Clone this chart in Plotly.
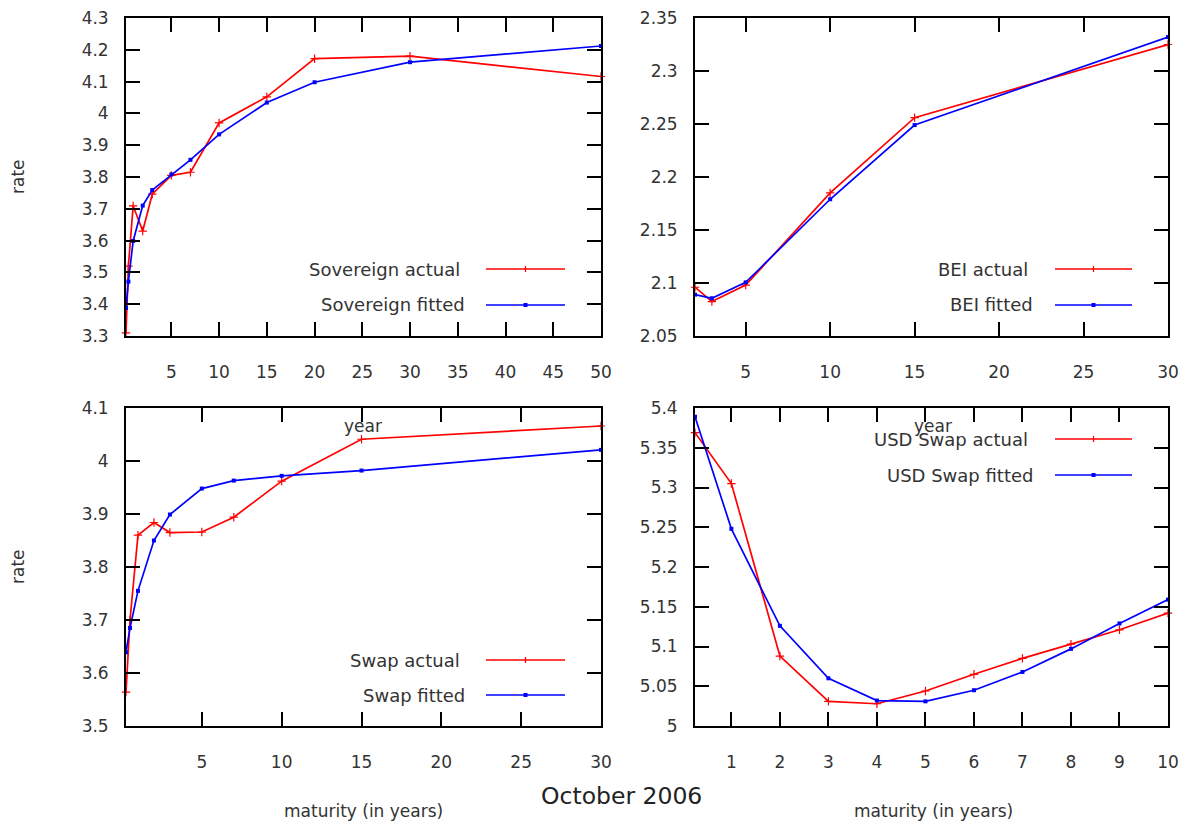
import plotly.graph_objects as go

# ---------------- data ----------------
sov_maturity = [0.25, 0.5, 1, 2, 3, 5, 7, 10, 15, 20, 30, 50]
sov_actual = [3.310, 3.520, 3.709, 3.630, 3.746, 3.805, 3.815, 3.970, 4.052, 4.172, 4.180, 4.116]
sov_fitted = [3.388, 3.471, 3.599, 3.710, 3.759, 3.808, 3.854, 3.934, 4.034, 4.098, 4.161, 4.212]

bei_maturity = [2, 3, 5, 10, 15, 30]
bei_actual = [2.096, 2.0825, 2.098, 2.185, 2.256, 2.325]
bei_fitted = [2.089, 2.0856, 2.1006, 2.179, 2.249, 2.332]

swap_maturity = [0.25, 0.5, 1, 2, 3, 5, 7, 10, 15, 30]
swap_actual = [3.564, 3.700, 3.860, 3.884, 3.865, 3.866, 3.894, 3.962, 4.041, 4.066]
swap_fitted = [3.639, 3.685, 3.755, 3.850, 3.899, 3.948, 3.963, 3.972, 3.982, 4.021]

usd_maturity = [0.25, 1, 2, 3, 4, 5, 6, 7, 8, 9, 10]
usd_actual = [5.369, 5.305, 5.088, 5.031, 5.028, 5.044, 5.065, 5.085, 5.103, 5.121, 5.142]
usd_fitted = [5.389, 5.248, 5.126, 5.060, 5.032, 5.031, 5.045, 5.068, 5.097, 5.129, 5.159]

legend_names = [
    ("Sovereign actual", "Sovereign fitted"),
    ("BEI actual", "BEI fitted"),
    ("Swap actual", "Swap fitted"),
    ("USD Swap actual", "USD Swap fitted"),
]
title_text = "October 2006"

# ---------------- layout helpers ----------------
PAGE_W, PAGE_H = 1191, 829
OFF = 8  # default body margin of the html page
W, H = PAGE_W - 2 * OFF, PAGE_H - 2 * OFF


def px(x):
    return (x - OFF) / W


def py(y):
    return 1 - (y - OFF) / H


RED = "#ff0000"
BLUE = "#0000ff"
TXT = "#333333"
FONT = "DejaVu Sans"

# panel pixel boxes (page pixels): (left, right, top, bottom)
boxes = [
    (126, 601, 18, 336),
    (695, 1168, 18, 336),
    (126, 601, 408, 726),
    (695, 1168, 408, 726),
]
xranges = [[0.25, 50], [2, 30], [0.25, 30], [0.25, 10]]
yranges = [[3.3, 4.3], [2.05, 2.35], [3.5, 4.1], [5.0, 5.4]]
xdticks = [5, 5, 5, 1]
ydticks = [0.1, 0.05, 0.1, 0.05]

series = [
    (sov_maturity, sov_actual, sov_fitted),
    (bei_maturity, bei_actual, bei_fitted),
    (swap_maturity, swap_actual, swap_fitted),
    (usd_maturity, usd_actual, usd_fitted),
]

# legend placement in pixels: (text right edge actual, text right edge fitted, line x0, line x1, y actual, y fitted)
legend_pos = [
    (462, 467, 486, 565, 269, 305),
    (1030, 1035, 1055, 1132, 269, 305),
    (462, 467, 486, 565, 660, 695),
    (1030, 1035, 1055, 1132, 439, 475),
]

fig = go.Figure()
annotations = []
shapes = []

for i, (box, xr, yr, xd, yd, (mat, act, fit)) in enumerate(
    zip(boxes, xranges, yranges, xdticks, ydticks, series)
):
    n = "" if i == 0 else str(i + 1)
    xa = "x" + n
    ya = "y" + n
    l, r, t, b = box
    axis_common = dict(
        showline=True,
        linecolor="black",
        linewidth=1.8,
        mirror="allticks",
        ticks="inside",
        ticklen=14,
        tickwidth=1.8,
        tickcolor="black",
        showgrid=False,
        zeroline=False,
        automargin=False,
        ticklabeloverflow="allow",
        tickfont=dict(family=FONT, size=17, color=TXT),
    )
    fig.layout["xaxis" + n] = dict(
        domain=[px(l), px(r)],
        range=xr,
        tick0=0,
        dtick=xd,
        anchor=ya,
        ticklabelstandoff=20,
        **axis_common,
    )
    fig.layout["yaxis" + n] = dict(
        domain=[py(b), py(t)],
        range=yr,
        tick0=0,
        dtick=yd,
        anchor=xa,
        ticklabelstandoff=12,
        **axis_common,
    )
    fig.add_trace(
        go.Scatter(
            x=mat, y=act, mode="lines+markers", xaxis=xa, yaxis=ya,
            name=legend_names[i][0], showlegend=False,
            line=dict(color=RED, width=1.7),
            marker=dict(symbol="cross-thin", size=6, line=dict(color=RED, width=1.2), color=RED),
            cliponaxis=False,
        )
    )
    fig.add_trace(
        go.Scatter(
            x=mat, y=fit, mode="lines+markers", xaxis=xa, yaxis=ya,
            name=legend_names[i][1], showlegend=False,
            line=dict(color=BLUE, width=1.7),
            marker=dict(symbol="square", size=4, color=BLUE),
            cliponaxis=False,
        )
    )

    # gnuplot-style key: text right-aligned, sample line to the right
    tra, trf, lx0, lx1, ya_px, yf_px = legend_pos[i]
    for txt, tr, yy, col in [
        (legend_names[i][0], tra, ya_px, RED),
        (legend_names[i][1], trf, yf_px, BLUE),
    ]:
        annotations.append(dict(
            x=px(tr), y=py(yy), xref="paper", yref="paper", text=txt,
            showarrow=False, xanchor="right", yanchor="middle",
            font=dict(family=FONT, size=18, color=TXT),
        ))
        shapes.append(dict(
            type="line", xref="paper", yref="paper",
            x0=px(lx0), x1=px(lx1), y0=py(yy), y1=py(yy),
            line=dict(color=col, width=1.7),
        ))
    mx = (lx0 + lx1) / 2
    shapes.append(dict(type="line", xref="paper", yref="paper",
                       x0=px(mx), x1=px(mx), y0=py(ya_px - 3), y1=py(ya_px + 3),
                       line=dict(color=RED, width=1.2)))
    shapes.append(dict(type="rect", xref="paper", yref="paper",
                       x0=px(mx - 2), x1=px(mx + 2), y0=py(yf_px - 2), y1=py(yf_px + 2),
                       fillcolor=BLUE, line=dict(width=0)))

# axis titles as free text (gnuplot multiplot placement)
for (x, y, txt, ang) in [
    (18, 177, "rate", -90),
    (18, 567, "rate", -90),
    (363, 426, "year", 0),
    (933, 426, "year", 0),
    (363, 811, "maturity (in years)", 0),
    (933, 811, "maturity (in years)", 0),
]:
    annotations.append(dict(
        x=px(x), y=py(y), xref="paper", yref="paper", text=txt,
        showarrow=False, xanchor="center", yanchor="middle", textangle=ang,
        font=dict(family=FONT, size=17, color=TXT),
    ))

annotations.append(dict(
    x=px(621), y=py(796), xref="paper", yref="paper", text=title_text,
    showarrow=False, xanchor="center", yanchor="middle",
    font=dict(family=FONT, size=23.5, color="#222222"),
))

fig.update_layout(
    width=W, height=H,
    margin=dict(l=0, r=0, t=0, b=0, autoexpand=False),
    paper_bgcolor="white",
    plot_bgcolor="white",
    showlegend=False,
    annotations=annotations,
    shapes=shapes,
)

fig.write_html("out.html")
